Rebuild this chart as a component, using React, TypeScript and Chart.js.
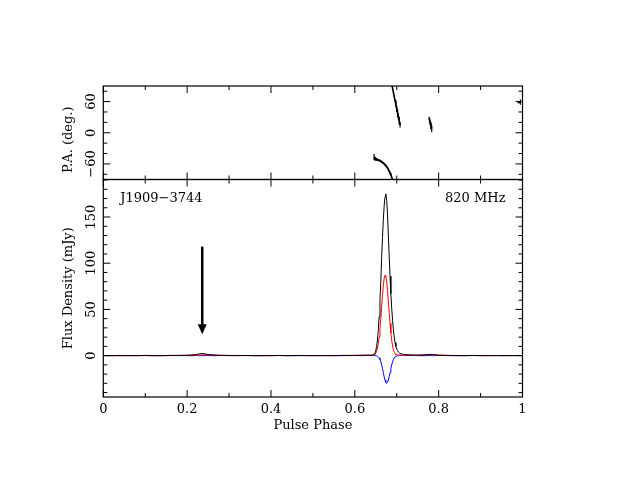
import React, { useEffect, useRef } from "react";
import { Chart, registerables } from "chart.js";
Chart.register(...registerables);

// ---------- profile data ----------
const phase = [
  0.0, 0.02, 0.04, 0.06, 0.08, 0.1, 0.12, 0.14, 0.16, 0.18,
  0.2, 0.21, 0.22, 0.225, 0.23, 0.235, 0.24, 0.245, 0.25, 0.26, 0.27, 0.28, 0.3,
  0.32, 0.34, 0.36, 0.38, 0.4, 0.42, 0.44, 0.46, 0.48, 0.5, 0.52, 0.54, 0.56, 0.58, 0.6, 0.62, 0.63,
  0.64, 0.642, 0.644, 0.646, 0.648, 0.65, 0.652, 0.654, 0.656, 0.658,
  0.66, 0.662, 0.664, 0.666, 0.668, 0.67, 0.672, 0.674, 0.676, 0.678,
  0.68, 0.682, 0.684, 0.686, 0.688, 0.69, 0.692, 0.694, 0.696, 0.698,
  0.7, 0.702, 0.704, 0.706, 0.708, 0.71, 0.712, 0.714, 0.716, 0.718, 0.72,
  0.73, 0.74, 0.75, 0.76, 0.77, 0.775, 0.78, 0.785, 0.79, 0.8,
  0.82, 0.84, 0.86, 0.88, 0.9, 0.92, 0.94, 0.96, 0.98, 1.0,
];

const totalI = [
  0.1, -0.2, 0.2, 0.0, -0.1, 0.2, 0.1, -0.1, 0.2, 0.3,
  0.4, 0.7, 1.1, 1.5, 1.9, 2.2, 2.0, 1.6, 1.2, 0.8, 0.5, 0.3, 0.1,
  0.0, 0.1, -0.1, 0.1, 0.0, 0.1, -0.1, 0.2, 0.0, 0.1, 0.0, -0.1, 0.1, 0.2, 0.1, 0.3, 0.4,
  0.4, 0.5, 0.8, 1.5, 3.0, 5.5, 10, 17, 27, 42,
  60, 80, 106, 128, 147, 162, 172, 175, 168, 153,
  130, 108, 86, 67, 51, 38, 28, 20, 14, 10,
  7.2, 5.2, 3.9, 3.0, 2.4, 2.0, 1.7, 1.5, 1.3, 1.1, 1.0,
  0.8, 0.6, 0.5, 0.6, 0.9, 1.1, 1.3, 1.2, 0.9, 0.5,
  0.2, 0.1, -0.1, 0.1, 0.0, 0.1, -0.1, 0.1, 0.0, 0.1,
];

const linearL = [
  0.0, 0.1, -0.1, 0.0, 0.1, 0.0, -0.1, 0.1, 0.0, 0.1,
  0.2, 0.3, 0.5, 0.6, 0.7, 0.8, 0.8, 0.8, 0.7, 0.6, 0.5, 0.3, 0.2,
  0.1, 0.0, 0.1, -0.1, 0.0, 0.1, 0.0, 0.1, 0.0, -0.1, 0.1, 0.0, 0.1, 0.2, 0.3, 0.4, 0.5,
  0.5, 0.6, 0.7, 0.9, 1.4, 2.6, 4.7, 8.1, 13.3, 20.3,
  29.5, 40.6, 52.8, 65, 75.6, 83.3, 86.8, 85.7, 80, 70.6,
  59, 46.6, 34.8, 24.6, 16.5, 10.4, 6.3, 3.5, 2.0, 1.3,
  1.0, 0.8, 0.7, 0.6, 0.6, 0.5, 0.5, 0.5, 0.5, 0.5, 0.5,
  0.5, 0.4, 0.5, 0.6, 0.8, 0.9, 1.0, 0.9, 0.7, 0.4,
  0.2, 0.1, 0.0, 0.1, 0.0, -0.1, 0.1, 0.0, 0.1, 0.0,
];

const circularV = [
  0.0, 0.1, -0.1, 0.0, 0.0, 0.1, -0.1, 0.0, 0.1, 0.0,
  0.0, -0.1, 0.0, 0.1, 0.0, -0.1, 0.0, 0.1, 0.0, -0.1, 0.0, 0.1, 0.0,
  0.0, 0.1, 0.0, -0.1, 0.0, 0.1, 0.0, -0.1, 0.1, 0.0, 0.0, 0.1, -0.1, 0.0, 0.1, 0.0, 0.1,
  0.2, 0.3, 0.3, 0.2, 0.0, -0.2, -0.4, -0.75, -1.4, -2.5,
  -4.3, -6.7, -10, -14, -18.4, -22.8, -26.6, -29.1, -30, -29.1,
  -26.6, -22.8, -18.4, -14, -10, -6.7, -4.3, -2.5, -1.4, -0.75,
  -0.3, -0.1, 0.0, 0.1, 0.0, 0.0, 0.1, 0.0, 0.0, 0.1, 0.0,
  0.0, 0.1, 0.0, -0.1, 0.0, 0.1, 0.0, -0.1, 0.0, 0.1,
  0.0, -0.1, 0.0, 0.1, 0.0, 0.0, 0.1, -0.1, 0.0, 0.0,
];

// ---------- position angle data (null = gap) ----------
const paPhase = [
  0.646, 0.648, 0.65, 0.652, 0.654, 0.656, 0.658, 0.66, 0.662, 0.664, 0.666, 0.668,
  0.67, 0.672, 0.674, 0.676, 0.678, 0.68, 0.682, 0.684, 0.686, 0.688, 0.69, 0.692,
  0.692,
  0.688, 0.69, 0.692, 0.694, 0.696, 0.698, 0.7, 0.702, 0.704, 0.706, 0.708,
  0.708,
  0.7775, 0.7795, 0.7815, 0.7835,
  0.7835,
  0.99, 0.995,
];
const paDeg = [
  -47, -49.5, -50.5, -51.2, -51.9, -52.5, -53.2, -53.9, -54.9, -56, -57.1, -58.4,
  -59.8, -61.5, -63.4, -65.5, -67.9, -70.6, -73.8, -77.3, -81.3, -86, -91, -96,
  null,
  94, 86, 78, 70, 62, 54, 46, 38, 31, 23, 15,
  null,
  28, 20, 13, 8,
  null,
  58, 59,
];
const paErr = [
  6, 4, 3, 2.5, 2, 2, 2, 2, 2, 2, 2, 2,
  2, 2, 2, 2, 2, 2, 2, 2, 2, 2, 2, 2,
  0,
  1.5, 1.5, 1.5, 1.5, 2, 4, 6, 8, 6, 8, 5,
  0,
  3, 5, 6, 6,
  0,
  1, 5,
];

// ---------- axes / labels ----------
const xTickValues = [0, 0.2, 0.4, 0.6, 0.8, 1];
const xTickLabels = ["0", "0.2", "0.4", "0.6", "0.8", "1"];
const fluxTickValues = [0, 50, 100, 150];
const fluxTickLabels = ["0", "50", "100", "150"];
const paTickValues = [-60, 0, 60];
const paTickLabels = ["\u221260", "0", "60"];

const pulsarName = "J1909\u22123744";
const freqLabel = "820 MHz";
const arrowPhase = 0.236;
const arrowFrom = 118;
const arrowTo = 23;

const FONT = '13px "DejaVu Serif"';

function makeFramePlugin(cfg: {
  id: string;
  yMinorStep: number;
  yTickValues: number[];
  yTickLabels: string[];
  yTitle: string;
  yTitleShift: number;
  showX: boolean;
}) {
  return {
    id: cfg.id,
    afterDraw(chart: any) {
      const ctx = chart.ctx;
      const a = chart.chartArea;
      const xs = chart.scales.x;
      const ys = chart.scales.y;
      ctx.save();
      ctx.strokeStyle = "#000";
      ctx.fillStyle = "#000";
      ctx.lineWidth = 1.2;
      ctx.strokeRect(a.left, a.top, a.right - a.left, a.bottom - a.top);
      ctx.lineWidth = 1;
      // x ticks (top & bottom, inward)
      for (let k = 0; k <= 10; k++) {
        const v = k / 10;
        const px = xs.getPixelForValue(v);
        const major = xTickValues.some((t) => Math.abs(t - v) < 1e-9);
        const len = major ? 7 : 4;
        ctx.beginPath();
        ctx.moveTo(px, a.bottom);
        ctx.lineTo(px, a.bottom - len);
        ctx.moveTo(px, a.top);
        ctx.lineTo(px, a.top + len);
        ctx.stroke();
      }
      // y ticks (left & right, inward)
      const st = cfg.yMinorStep;
      for (let v = Math.ceil(ys.min / st) * st; v <= ys.max + 1e-9; v += st) {
        const py = ys.getPixelForValue(v);
        const major = cfg.yTickValues.some((t) => Math.abs(t - v) < 1e-9);
        const len = major ? 7 : 4;
        ctx.beginPath();
        ctx.moveTo(a.left, py);
        ctx.lineTo(a.left + len, py);
        ctx.moveTo(a.right, py);
        ctx.lineTo(a.right - len, py);
        ctx.stroke();
      }
      ctx.font = FONT;
      ctx.textAlign = "center";
      ctx.textBaseline = "middle";
      // y tick labels, rotated
      cfg.yTickValues.forEach((v, i) => {
        const py = ys.getPixelForValue(v);
        ctx.save();
        ctx.translate(a.left - 13, py);
        ctx.rotate(-Math.PI / 2);
        ctx.fillText(cfg.yTickLabels[i], 0, 1);
        ctx.restore();
      });
      // y title
      ctx.save();
      ctx.translate(a.left - 36, (a.top + a.bottom) / 2 + cfg.yTitleShift);
      ctx.rotate(-Math.PI / 2);
      ctx.fillText(cfg.yTitle, 0, 1);
      ctx.restore();
      if (cfg.showX) {
        xTickValues.forEach((v, i) => {
          ctx.fillText(xTickLabels[i], xs.getPixelForValue(v), a.bottom + 13);
        });
        ctx.fillText("Pulse Phase", (a.left + a.right) / 2, a.bottom + 29);
      }
      ctx.restore();
    },
  };
}

const errorBarPlugin = {
  id: "paErrors",
  afterDatasetsDraw(chart: any) {
    const ctx = chart.ctx;
    const a = chart.chartArea;
    const xs = chart.scales.x;
    const ys = chart.scales.y;
    ctx.save();
    ctx.beginPath();
    ctx.rect(a.left, a.top, a.right - a.left, a.bottom - a.top);
    ctx.clip();
    ctx.strokeStyle = "#000";
    ctx.lineWidth = 1.2;
    paPhase.forEach((p, i) => {
      const v = paDeg[i];
      if (v === null) return;
      const e = paErr[i];
      const px = xs.getPixelForValue(p);
      ctx.beginPath();
      ctx.moveTo(px, ys.getPixelForValue(v - e));
      ctx.lineTo(px, ys.getPixelForValue(v + e));
      ctx.stroke();
    });
    ctx.restore();
  },
};

const annotationPlugin = {
  id: "profileAnnotations",
  afterDatasetsDraw(chart: any) {
    const ctx = chart.ctx;
    const a = chart.chartArea;
    const xs = chart.scales.x;
    const ys = chart.scales.y;
    ctx.save();
    ctx.fillStyle = "#000";
    ctx.strokeStyle = "#000";
    const px = xs.getPixelForValue(arrowPhase);
    const y1 = ys.getPixelForValue(arrowFrom);
    const y2 = ys.getPixelForValue(arrowTo);
    ctx.lineWidth = 2.5;
    ctx.beginPath();
    ctx.moveTo(px, y1);
    ctx.lineTo(px, y2 - 8);
    ctx.stroke();
    ctx.beginPath();
    ctx.moveTo(px - 4.5, y2 - 10);
    ctx.lineTo(px + 4.5, y2 - 10);
    ctx.lineTo(px, y2);
    ctx.closePath();
    ctx.fill();
    ctx.font = FONT;
    ctx.textBaseline = "middle";
    ctx.textAlign = "left";
    ctx.fillText(pulsarName, a.left + 17, a.top + 19.5);
    ctx.textAlign = "right";
    ctx.fillText(freqLabel, a.right - 17, a.top + 19.5);
    ctx.restore();
  },
};

const W = 627;
const H = 484;
const LEFT = 103.3;
const RIGHT = W - 522.5;

export default function App() {
  const topRef = useRef<HTMLCanvasElement | null>(null);
  const botRef = useRef<HTMLCanvasElement | null>(null);

  useEffect(() => {
    const common = {
      animation: false as const,
      responsive: false,
      events: [] as any[],
      plugins: { legend: { display: false }, tooltip: { enabled: false } },
    };
    const top = new Chart(topRef.current as HTMLCanvasElement, {
      type: "line",
      data: {
        datasets: [
          {
            data: paPhase.map((p, i) => ({ x: p, y: paDeg[i] as any })),
            borderColor: "#000",
            borderWidth: 1.6,
            pointRadius: 0,
            spanGaps: false,
            tension: 0,
          },
        ],
      },
      options: {
        ...common,
        layout: { padding: { left: LEFT, right: RIGHT, top: 86, bottom: H - 179.5 } },
        scales: {
          x: { type: "linear", min: 0, max: 1, display: false },
          y: { type: "linear", min: -90, max: 90, display: false },
        },
      } as any,
      plugins: [
        errorBarPlugin,
        makeFramePlugin({
          id: "paFrame",
          yMinorStep: 20,
          yTickValues: paTickValues,
          yTickLabels: paTickLabels,
          yTitle: "P.A. (deg.)",
          yTitleShift: 7,
          showX: false,
        }),
      ],
    });
    const mk = (vals: number[], color: string) => ({
      data: phase.map((p, i) => ({ x: p, y: vals[i] })),
      borderColor: color,
      borderWidth: 1,
      pointRadius: 0,
      tension: 0,
    });
    const bot = new Chart(botRef.current as HTMLCanvasElement, {
      type: "line",
      data: {
        datasets: [mk(totalI, "#000"), mk(linearL, "#ff0000"), mk(circularV, "#0000ff")],
      },
      options: {
        ...common,
        layout: { padding: { left: LEFT, right: RIGHT, top: 179.5, bottom: H - 397 } },
        scales: {
          x: { type: "linear", min: 0, max: 1, display: false },
          y: { type: "linear", min: -44.8, max: 190.6, display: false },
        },
      } as any,
      plugins: [
        annotationPlugin,
        makeFramePlugin({
          id: "fluxFrame",
          yMinorStep: 10,
          yTickValues: fluxTickValues,
          yTickLabels: fluxTickLabels,
          yTitle: "Flux Density (mJy)",
          yTitleShift: 0,
          showX: true,
        }),
      ],
    });
    return () => {
      top.destroy();
      bot.destroy();
    };
  }, []);

  return (
    <div style={{ position: "fixed", left: 0, top: 0, width: W, height: H, background: "#fff" }}>
      <canvas ref={botRef} width={W} height={H} style={{ position: "absolute", left: 0, top: 0 }} />
      <canvas ref={topRef} width={W} height={H} style={{ position: "absolute", left: 0, top: 0 }} />
    </div>
  );
}
